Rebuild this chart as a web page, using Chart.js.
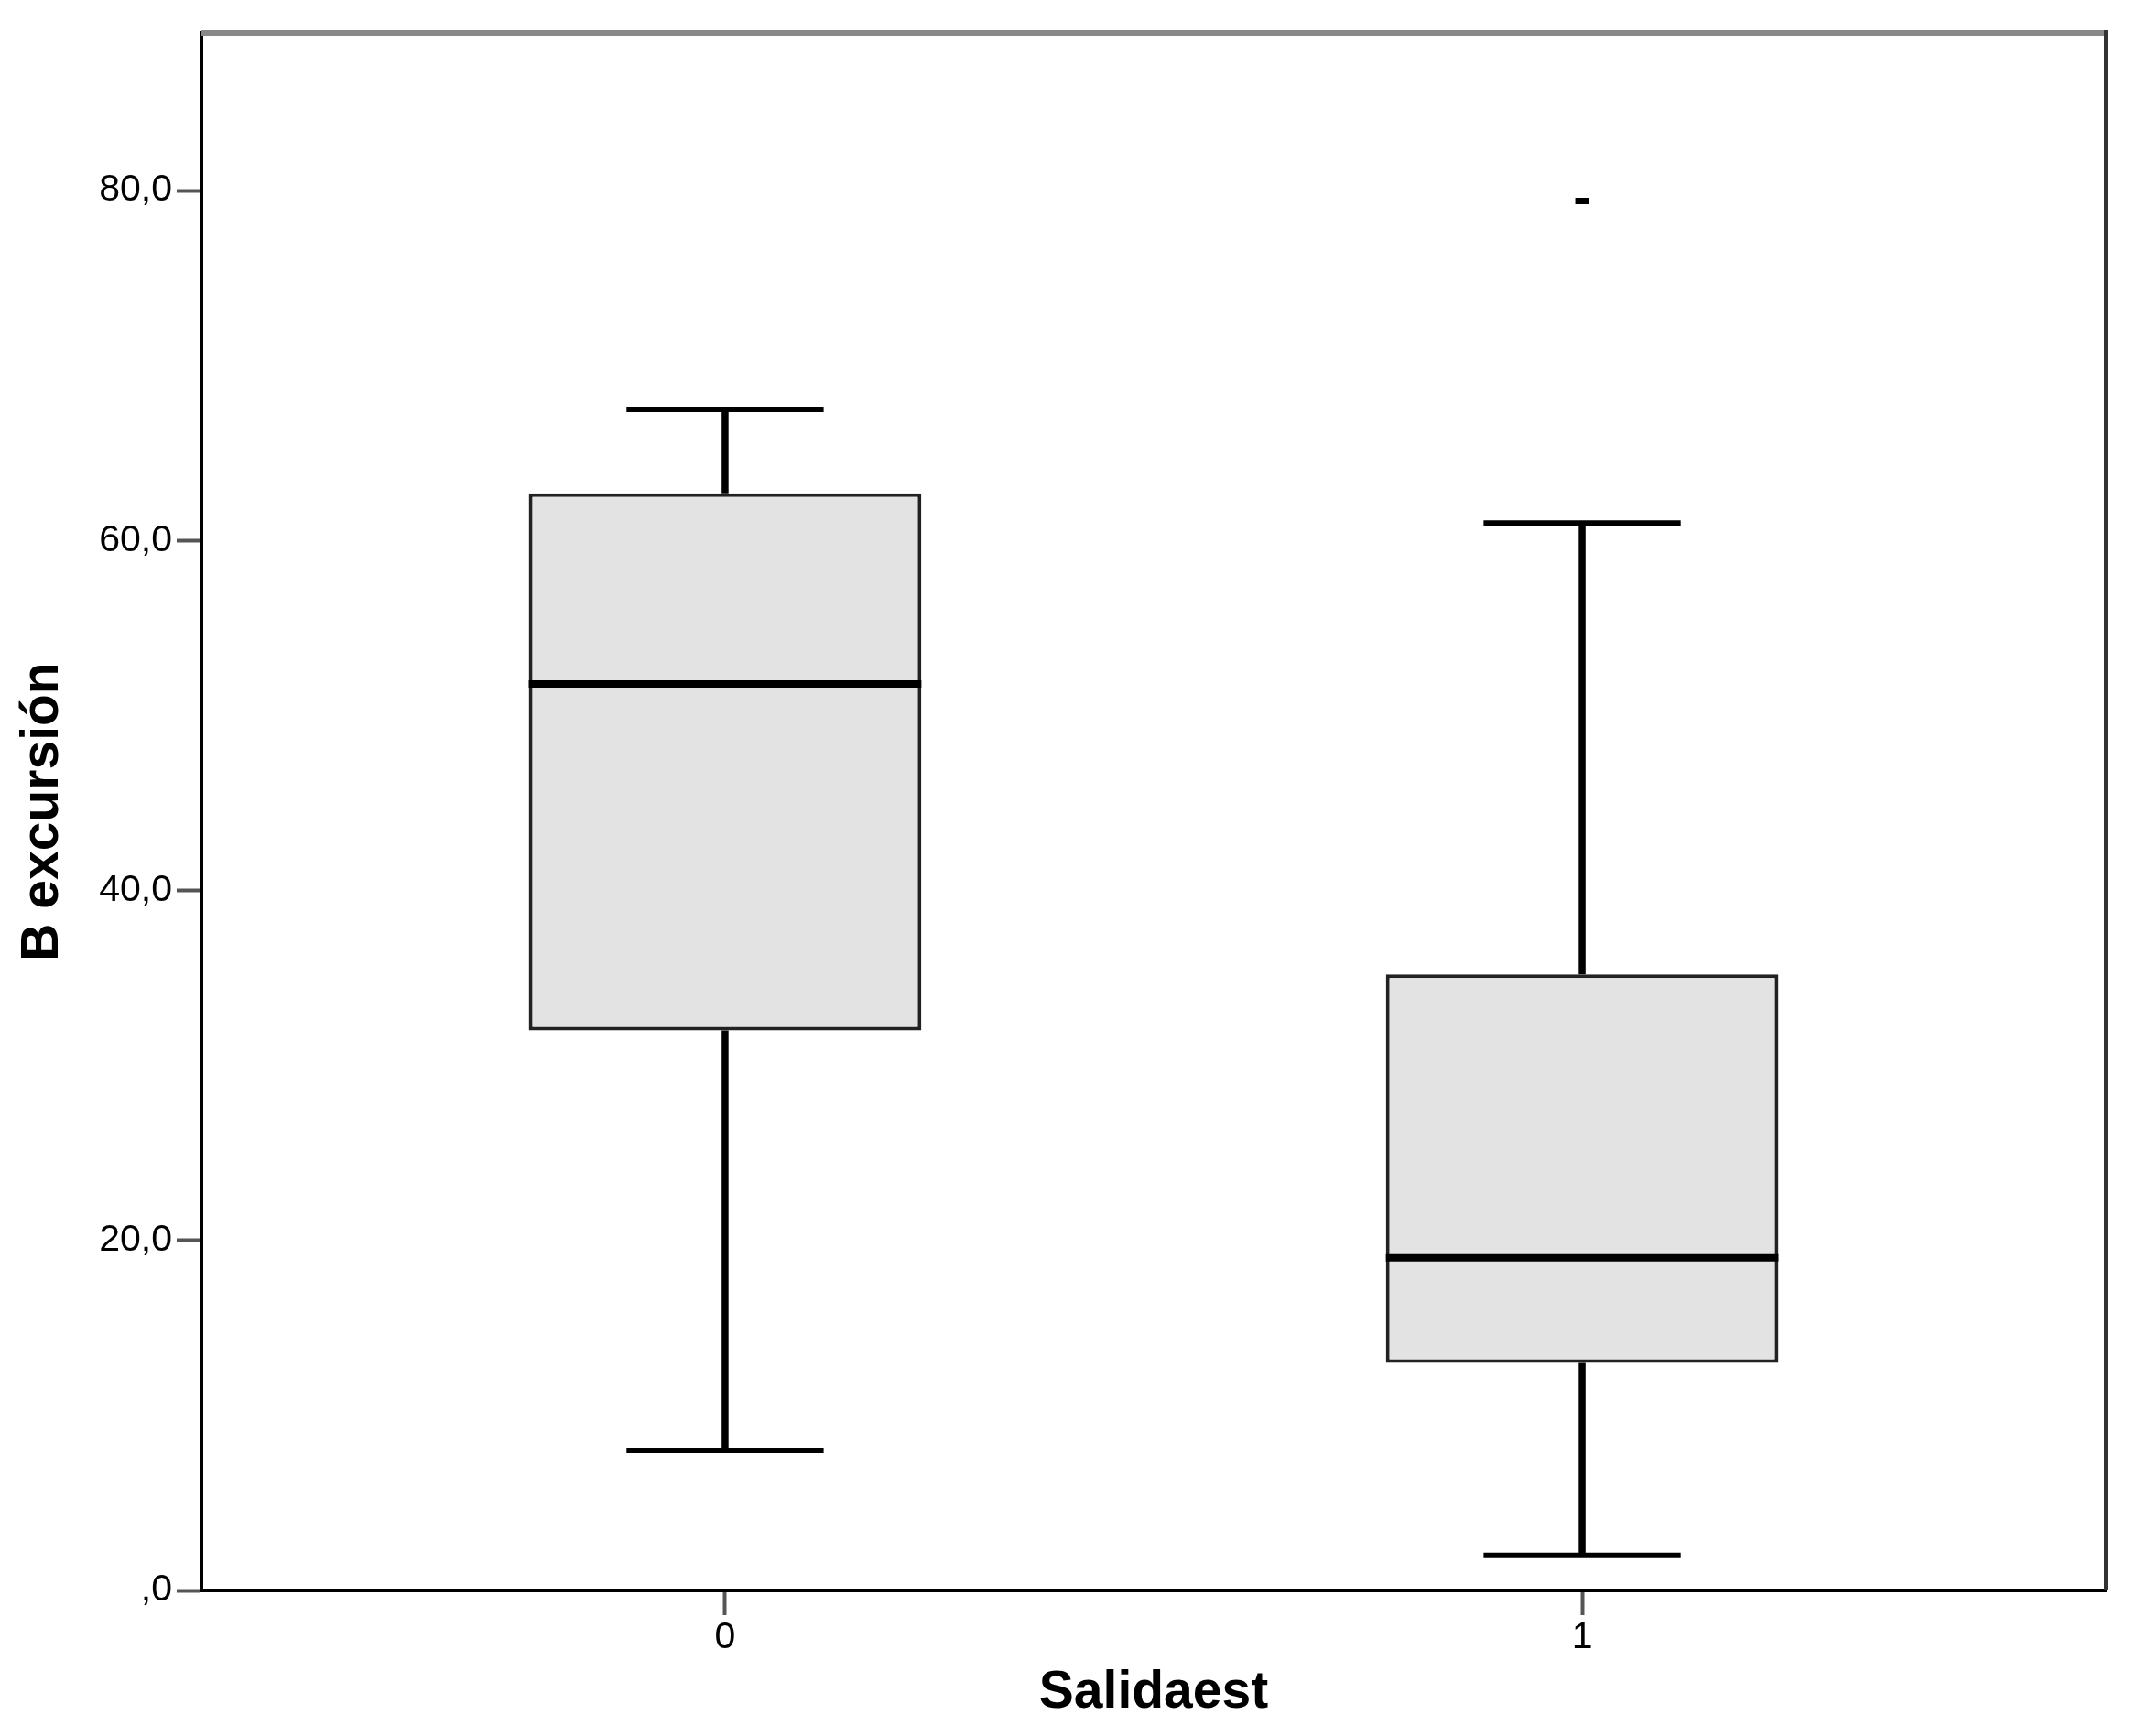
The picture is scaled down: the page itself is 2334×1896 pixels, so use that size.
<!DOCTYPE html>
<html>
<head>
<meta charset="utf-8">
<title>B excursión por Salidaest</title>
<script src="https://cdn.jsdelivr.net/npm/chart.js@4"></script>
<style>
  html, body { margin: 0; padding: 0; background: #fff; }
  #wrap { width: 2334px; height: 1896px; }
</style>
</head>
<body>
<div id="wrap"><canvas id="boxChart" width="2334" height="1896"></canvas></div>
<script>
// Data (B excursión by Salidaest)
const groups = ['0', '1'];
const groupX = [0, 1];
const whiskerLow = [8.0, 2.0];
const q1 = [32.0, 13.0];
const median = [51.8, 19.0];
const q3 = [62.7, 35.2];
const whiskerHigh = [67.5, 61.0];
const outlierGroup = [1];
const outlierValue = [79.4];

const yTickValues = [0, 20, 40, 60, 80];
const yTickLabels = [',0', '20,0', '40,0', '60,0', '80,0'];

const FONT = "'Liberation Sans', Arial, sans-serif";

// whiskers under the boxes, medians on top, plus the top/right frame
const boxplotExtras = {
	id: 'boxplotExtras',
	beforeDatasetsDraw(chart) {
		const { ctx, scales: { x, y } } = chart;
		ctx.save();
		ctx.strokeStyle = '#000';
		ctx.lineCap = 'butt';
		groupX.forEach((gx, i) => {
			const px = x.getPixelForValue(gx);
			const capL = x.getPixelForValue(gx - 0.115);
			const capR = x.getPixelForValue(gx + 0.115);
			// stems
			ctx.lineWidth = 7.5;
			ctx.beginPath();
			ctx.moveTo(px, y.getPixelForValue(q3[i]));
			ctx.lineTo(px, y.getPixelForValue(whiskerHigh[i]));
			ctx.moveTo(px, y.getPixelForValue(q1[i]));
			ctx.lineTo(px, y.getPixelForValue(whiskerLow[i]));
			ctx.stroke();
			// caps
			ctx.lineWidth = 6;
			ctx.beginPath();
			ctx.moveTo(capL, y.getPixelForValue(whiskerHigh[i]));
			ctx.lineTo(capR, y.getPixelForValue(whiskerHigh[i]));
			ctx.moveTo(capL, y.getPixelForValue(whiskerLow[i]));
			ctx.lineTo(capR, y.getPixelForValue(whiskerLow[i]));
			ctx.stroke();
		});
		ctx.restore();
	},
	afterDatasetsDraw(chart) {
		const { ctx, scales: { y } } = chart;
		const bars = chart.getDatasetMeta(0).data;
		ctx.save();
		ctx.strokeStyle = '#000';
		ctx.lineWidth = 8;
		bars.forEach((bar, i) => {
			const py = y.getPixelForValue(median[i]);
			ctx.beginPath();
			ctx.moveTo(bar.x - bar.width / 2, py);
			ctx.lineTo(bar.x + bar.width / 2, py);
			ctx.stroke();
		});
		ctx.restore();
	},
	afterDraw(chart) {
		const { ctx, chartArea: a } = chart;
		ctx.save();
		// top border (light grey)
		ctx.strokeStyle = '#888';
		ctx.lineWidth = 6;
		ctx.beginPath();
		ctx.moveTo(a.left, a.top);
		ctx.lineTo(a.right, a.top);
		ctx.stroke();
		// right border
		ctx.strokeStyle = '#333';
		ctx.lineWidth = 4;
		ctx.beginPath();
		ctx.moveTo(a.right, a.top - 3);
		ctx.lineTo(a.right, a.bottom);
		ctx.stroke();
		ctx.restore();
	}
};

const ctx = document.getElementById('boxChart').getContext('2d');

new Chart(ctx, {
	type: 'bar',
	data: {
		datasets: [
			{
				label: 'IQR',
				data: groupX.map((gx, i) => ({ x: gx, y: [q1[i], q3[i]] })),
				backgroundColor: '#e3e3e3',
				borderColor: '#222',
				borderWidth: 4,
				borderSkipped: false,
				categoryPercentage: 1,
				barPercentage: 0.458,
			},
			{
				type: 'scatter',
				label: 'Outliers',
				data: outlierGroup.map((g, i) => ({ x: g, y: outlierValue[i] })),
				pointStyle: 'line',
				radius: 7.5,
				borderColor: '#000',
				borderWidth: 7,
				showLine: false,
			},
		],
	},
	options: {
		responsive: false,
		animation: false,
		layout: { padding: { top: 36, right: 34, bottom: 0, left: 0 } },
		plugins: {
			legend: { display: false },
			tooltip: { enabled: false },
		},
		scales: {
			x: {
				type: 'linear',
				min: -0.611,
				max: 1.611,
				offset: false,
				afterBuildTicks: (axis) => { axis.ticks = groupX.map(v => ({ value: v })); },
				afterFit: (axis) => { axis.height = 159; },
				border: { display: true, color: '#000', width: 4 },
				grid: {
					offset: false,
					drawOnChartArea: false,
					drawTicks: true,
					tickLength: 27,
					tickColor: '#555',
					tickWidth: 4,
				},
				ticks: {
					padding: 4,
					color: '#000',
					font: { family: FONT, size: 41, lineHeight: 1 },
					callback: (value) => groups[groupX.indexOf(value)],
				},
				title: {
					display: true,
					text: 'Salidaest',
					color: '#000',
					font: { family: FONT, size: 57, weight: 'bold', lineHeight: 1 },
					padding: { top: 0, bottom: 18 },
				},
			},
			y: {
				min: 0,
				max: 89,
				afterBuildTicks: (axis) => { axis.ticks = yTickValues.map(v => ({ value: v })); },
				afterFit: (axis) => { axis.width = 220; },
				border: { display: true, color: '#000', width: 4 },
				grid: {
					drawOnChartArea: false,
					drawTicks: true,
					tickLength: 27,
					tickColor: '#555',
					tickWidth: 4,
				},
				ticks: {
					padding: 5,
					color: '#000',
					font: { family: FONT, size: 41, lineHeight: 1 },
					callback: (value) => yTickLabels[yTickValues.indexOf(value)],
				},
				title: {
					display: true,
					text: 'B excursión',
					color: '#000',
					font: { family: FONT, size: 57, weight: 'bold', lineHeight: 1 },
					padding: { top: 19, bottom: 0 },
				},
			},
		},
	},
	plugins: [boxplotExtras],
});
</script>
</body>
</html>
